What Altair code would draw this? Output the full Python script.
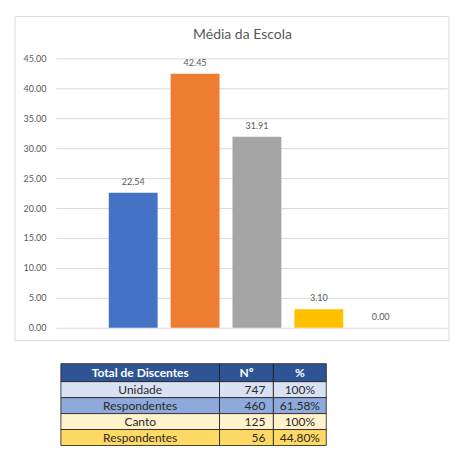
import altair as alt
import pandas as pd

# ---- chart data ----
chart_title = "Média da Escola"
categories = ["Série 1", "Série 2", "Série 3", "Série 4", "Série 5"]
values = [22.54, 42.45, 31.91, 3.10, 0.00]
bar_colors = ["#4472C4", "#ED7D31", "#A5A5A5", "#FFC000", "#5B9BD5"]
y_ticks = [0, 5, 10, 15, 20, 25, 30, 35, 40, 45]

# ---- table data ----
table_header = ["Total de Discentes", "Nº", "%"]
table_labels = ["Unidade", "Respondentes", "Canto", "Respondentes"]
table_n = ["747", "460", "125", "56"]
table_pct = ["100%", "61.58%", "100%", "44.80%"]
row_fills = ["#D9E1F2", "#8EA9DB", "#FFF2CC", "#FFD966"]
header_fill = "#2F5496"

FONT = "Lato"
W, H = 392, 270

df = pd.DataFrame({"cat": categories, "value": values})

xenc = alt.X("cat:N", sort=categories, axis=None,
             scale=alt.Scale(paddingInner=0.21, paddingOuter=0.766, align=0.558))
yscale = alt.Scale(domain=[0, 45], nice=False)
yaxis = alt.Axis(values=y_ticks, format=".2f", grid=True,
                 gridColor="#D9D9D9", domain=False, ticks=False, labelPadding=10,
                 labelColor="#595959", labelFontSize=9, labelFont=FONT, title=None,
                 labelOverlap=False, labelFlush=False)
yenc = alt.Y("value:Q", scale=yscale, axis=yaxis)

frame = alt.Chart(pd.DataFrame({"f": [0]})).mark_rect(
    filled=False, stroke="#D9D9D9", strokeWidth=1
).encode(x=alt.value(-41), x2=alt.value(W + 2), y=alt.value(-42), y2=alt.value(H + 13))

title = alt.Chart(pd.DataFrame({"t": [chart_title]})).mark_text(
    fontSize=14, font=FONT, color="#595959", baseline="middle", align="center"
).encode(text="t:N", x=alt.value(187), y=alt.value(-23))

bars = alt.Chart(df).mark_bar().encode(
    x=xenc,
    y=yenc,
    color=alt.Color("cat:N", scale=alt.Scale(domain=categories, range=bar_colors), legend=None),
)

labels = alt.Chart(df).mark_text(
    baseline="middle", dy=-11, fontSize=9, font=FONT, color="#595959"
).encode(x=xenc, y=yenc, text=alt.Text("value:Q", format=".2f"))

top = alt.layer(frame, title, bars, labels).properties(width=W, height=H)

# ---- table cells ----
col_widths = [159, 54, 53]
row_heights = [18, 16, 16, 16, 16]
col_edges = [0]
for w in col_widths:
    col_edges.append(col_edges[-1] + w)
row_edges = [0]
for h in row_heights:
    row_edges.append(row_edges[-1] + h)

rows = [table_header] + [[a, b, c] for a, b, c in zip(table_labels, table_n, table_pct)]
fills = [header_fill] + row_fills
cells = []
for r, row in enumerate(rows):
    for c, txt in enumerate(row):
        header = r == 0
        if c == 1 and not header:
            tx, al = col_edges[c + 1] - 8, "right"
        else:
            tx, al = (col_edges[c] + col_edges[c + 1]) / 2, "center"
        cells.append({
            "x0": col_edges[c], "x1": col_edges[c + 1],
            "y0": row_edges[r], "y1": row_edges[r + 1],
            "ym": (row_edges[r] + row_edges[r + 1]) / 2,
            "tx": tx, "align": al, "text": txt, "fill": fills[r],
            "weight": "bold" if header else "normal",
        })
cdf = pd.DataFrame(cells)

TW = col_edges[-1]
TH = row_edges[-1]
tx_scale = alt.Scale(domain=[-5, TW], nice=False, zero=False)
ty_scale = alt.Scale(domain=[0, TH], nice=False, reverse=True)

rects = alt.Chart(cdf).mark_rect(stroke="#1a1a1a", strokeWidth=0.8).encode(
    x=alt.X("x0:Q", scale=tx_scale, axis=None),
    x2="x1:Q",
    y=alt.Y("y0:Q", scale=ty_scale, axis=None),
    y2="y1:Q",
    fill=alt.Fill("fill:N", scale=None),
)

def text_layer(align, weight, color):
    sub = cdf[(cdf["align"] == align) & (cdf["weight"] == weight)]
    return alt.Chart(sub).mark_text(
        align=align, baseline="middle", fontSize=12, font=FONT,
        fontWeight=weight, color=color
    ).encode(
        x=alt.X("tx:Q", scale=tx_scale, axis=None),
        y=alt.Y("ym:Q", scale=ty_scale, axis=None),
        text="text:N",
    )

table = alt.layer(
    rects,
    text_layer("center", "bold", "white"),
    text_layer("center", "normal", "#2a2a2a"),
    text_layer("right", "normal", "#2a2a2a"),
).properties(width=TW + 5, height=TH)

chart = alt.vconcat(top, table, spacing=21).properties(
    padding={"left": 6, "top": 7, "right": 0, "bottom": 0}
).configure_view(stroke=None)

chart.save("out.html", embed_options={"renderer": "svg", "actions": False})
